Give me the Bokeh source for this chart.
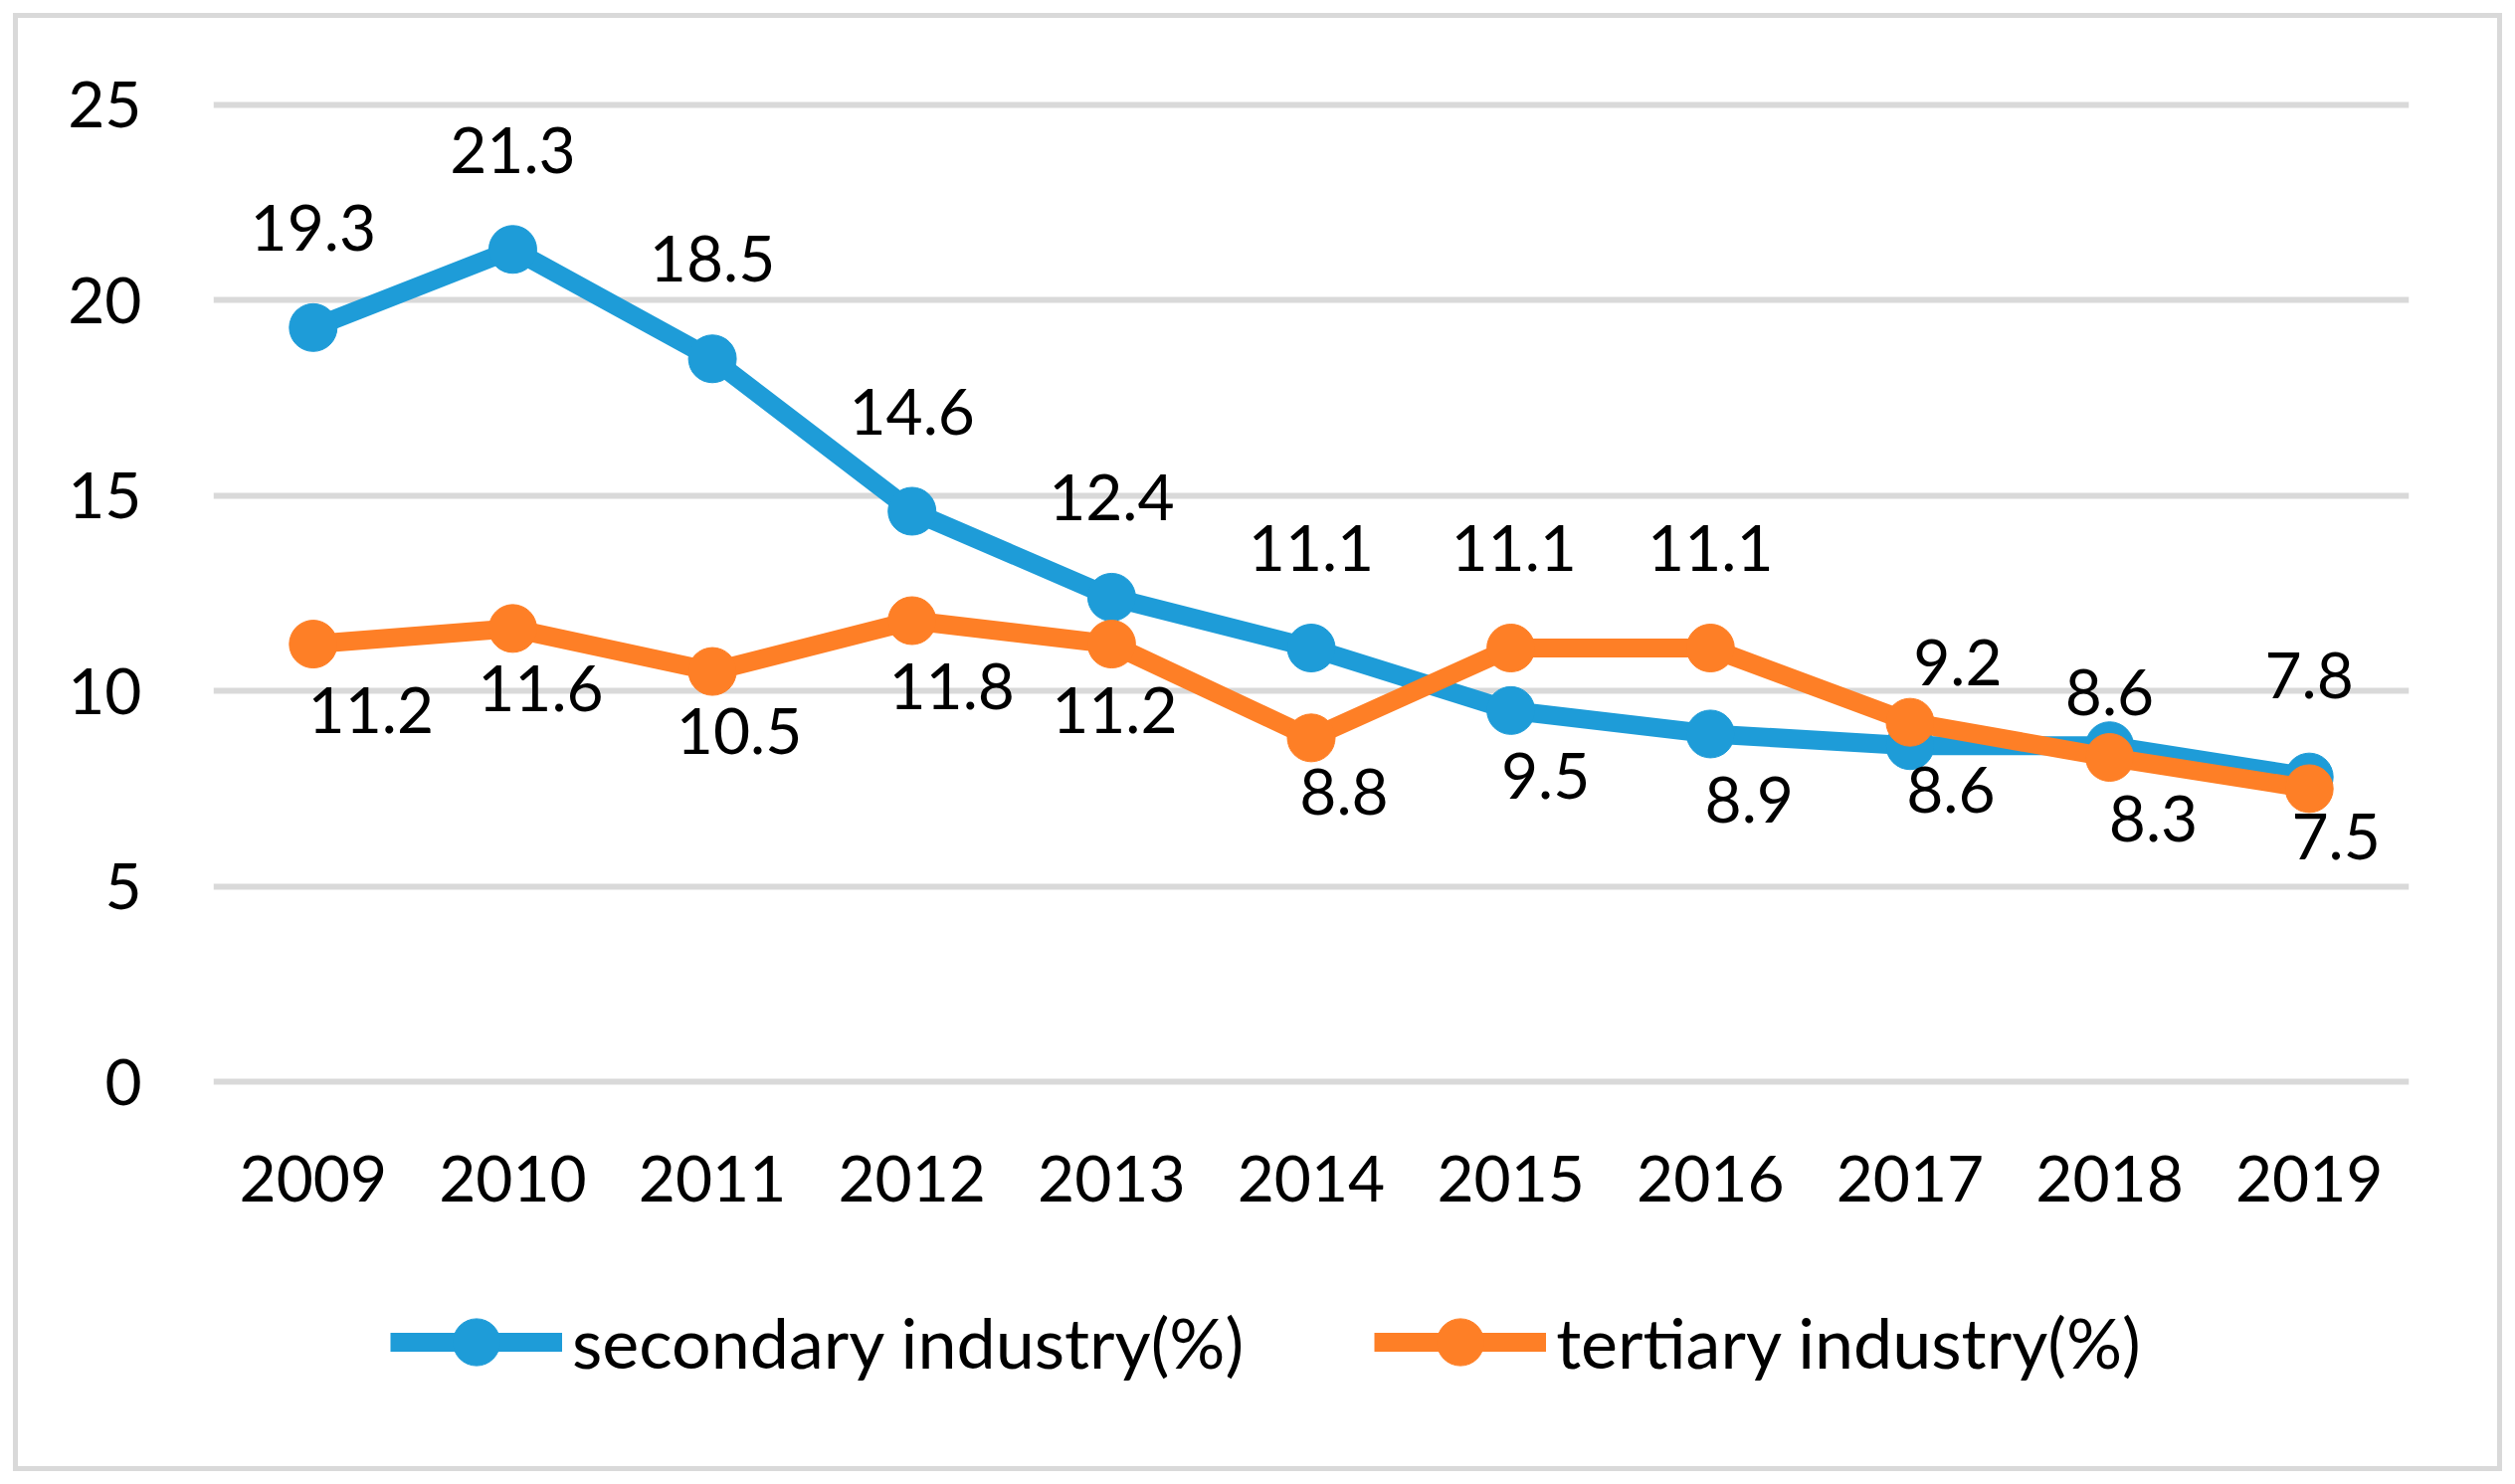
from bokeh.plotting import figure
from bokeh.layouts import column
from bokeh.models import (ColumnDataSource, LabelSet, FixedTicker, Range1d, FactorRange,
                          Legend, LegendItem, Styles)
from bokeh.core.properties import value
from bokeh.embed import file_html
from bokeh.resources import INLINE

years = ["2009", "2010", "2011", "2012", "2013", "2014", "2015", "2016", "2017", "2018", "2019"]
secondary = [19.3, 21.3, 18.5, 14.6, 12.4, 11.1, 9.5, 8.9, 8.6, 8.6, 7.8]
tertiary = [11.2, 11.6, 10.5, 11.8, 11.2, 8.8, 11.1, 11.1, 9.2, 8.3, 7.5]
y_ticks = [0, 5, 10, 15, 20, 25]
series_names = ["secondary industry(%)", "tertiary industry(%)"]

# label offsets (pixels)
sec_dx = [0, 0, 0, 0, 0, 0, 35, 39, 41, 0, 0]
sec_dy = [100, 100, 101, 100, 100, 101, -66, -66, -44, 54, 102]
ter_dx = [58, 28, 27, 40, 3, 33, 3, 0, 48, 44, 27]
ter_dy = [-66, -60, -60, -66, -66, -54, 101, 101, 60, -61, -48]

BLUE = "#1E9CD8"
ORANGE = "#FE7F26"
GRID = "#D9D9D9"
FONT = "Lato"
FS = "64px"

src = ColumnDataSource(dict(
    year=years, sec=secondary, ter=tertiary,
    sec_lbl=[f"{v:.1f}" for v in secondary], ter_lbl=[f"{v:.1f}" for v in tertiary],
    sec_dx=sec_dx, sec_dy=sec_dy, ter_dx=ter_dx, ter_dy=ter_dy,
))

p = figure(x_range=FactorRange(*years, range_padding=0),
           y_range=Range1d(-0.15, 25.15),
           frame_width=2207, frame_height=994,
           min_border_left=214, min_border_right=107, min_border_top=99, min_border_bottom=160,
           output_backend="svg", toolbar_location=None)
p.outline_line_color = None
p.background_fill_color = None
p.border_fill_color = None

p.xgrid.grid_line_color = None
p.ygrid.grid_line_color = GRID
p.ygrid.grid_line_width = 6
p.yaxis.ticker = FixedTicker(ticks=y_ticks)

for ax in (p.xaxis, p.yaxis):
    ax.axis_line_color = None
    ax.major_tick_line_color = None
    ax.minor_tick_line_color = None
    ax.major_tick_out = 0
    ax.major_tick_in = 0
    ax.major_label_text_font = FONT
    ax.major_label_text_font_size = FS
    ax.major_label_text_color = "black"
p.yaxis.major_label_standoff = 72
p.xaxis.major_label_standoff = 68

p.line(x="year", y="sec", source=src, line_color=BLUE, line_width=19, line_join="round")
p.scatter(x="year", y="sec", source=src, size=48, fill_color=BLUE, line_color=BLUE)
p.line(x="year", y="ter", source=src, line_color=ORANGE, line_width=19, line_join="round")
p.scatter(x="year", y="ter", source=src, size=48, fill_color=ORANGE, line_color=ORANGE)

lab1 = LabelSet(x="year", y="sec", text="sec_lbl", source=src, x_offset="sec_dx", y_offset="sec_dy",
                text_align="center", text_baseline="middle", text_font=value(FONT),
                text_font_size=FS, text_color="black")
lab2 = LabelSet(x="year", y="ter", text="ter_lbl", source=src, x_offset="ter_dx", y_offset="ter_dy",
                text_align="center", text_baseline="middle", text_font=value(FONT),
                text_font_size=FS, text_color="black")
p.add_layout(lab1)
p.add_layout(lab2)

# legend panel (separate figure below the chart); its renderers are off-range proxies
pl = figure(frame_width=2207, height=239, x_range=Range1d(0, 1), y_range=Range1d(0, 1),
            x_axis_type=None, y_axis_type=None, min_border_left=214, min_border_right=107,
            min_border_top=0, min_border_bottom=0,
            output_backend="svg", toolbar_location=None)
pl.outline_line_color = None
pl.background_fill_color = None
pl.border_fill_color = None
pl.grid.visible = False
proxy = ColumnDataSource(dict(x=[5], y=[5]))
g1 = pl.line(x="x", y="y", source=proxy, line_color=BLUE, line_width=19)
m1 = pl.scatter(x="x", y="y", source=proxy, size=48, fill_color=BLUE, line_color=BLUE)
g2 = pl.line(x="x", y="y", source=proxy, line_color=ORANGE, line_width=19)
m2 = pl.scatter(x="x", y="y", source=proxy, size=48, fill_color=ORANGE, line_color=ORANGE)

legend = Legend(items=[LegendItem(label=series_names[0], renderers=[g1, m1]),
                       LegendItem(label=series_names[1], renderers=[g2, m2])],
                orientation="horizontal", location=(178, 84),
                glyph_width=173, glyph_height=118, label_standoff=10, spacing=131,
                padding=0, margin=0, border_line_color=None, background_fill_alpha=0,
                label_text_font=FONT, label_text_font_size="70px", label_text_color="black",
                label_height=118)
pl.add_layout(legend, "center")

layout = column(p, pl, spacing=0,
                styles=Styles(background_color="white",
                              box_shadow="inset 0 0 0 13px white, inset 0 0 0 18px #D9D9D9"))

open("out.html", "w").write(file_html(layout, INLINE))
